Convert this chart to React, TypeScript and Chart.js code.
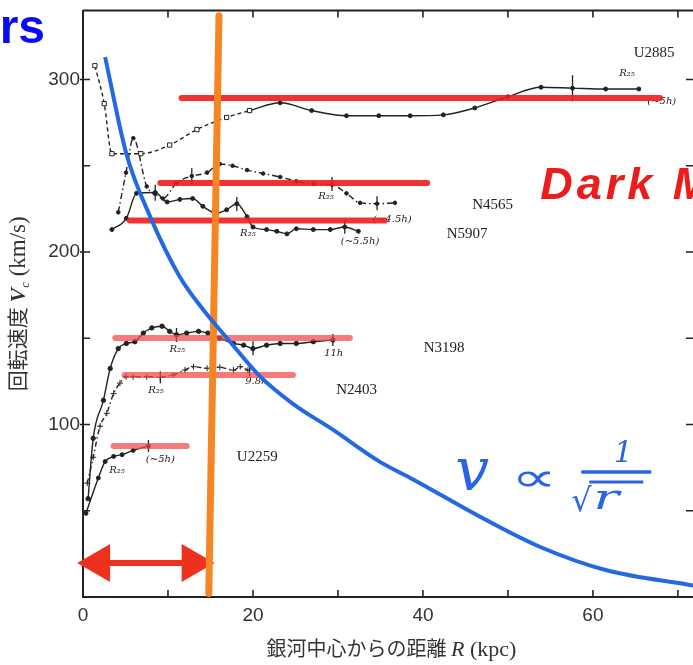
import React, { useEffect, useRef } from 'react';
import { Chart, registerables } from 'chart.js';

Chart.register(...registerables);

// ---- axis ticks ----
const xTickLabels = [0, 20, 40, 60];
const yTickLabels = [100, 200, 300];

// ---- rotation curves (R in kpc, V in km/s) ----
const u2885InnerR = [1.4, 2.5, 3.4, 6.8, 10.2, 13.4, 16.9, 19.6];
const u2885InnerV = [308, 286, 257, 257, 262, 271, 278, 282];
const u2885OuterR = [19.6, 23.2, 26.9, 31.0, 34.8, 38.5, 42.4, 46.1, 50.0, 53.9, 57.6, 61.5, 65.4];
const u2885OuterV = [282, 286.5, 282, 279, 279, 279, 279.5, 283.5, 290, 295.5, 295, 294.5, 294.5];

const n4565R = [4.15, 5.06, 5.92, 7.5, 8.4, 9.4, 11.0, 12.8, 14.6, 16.1, 17.6, 19.3, 21.2, 23.2, 25.1, 27.1, 29.3, 31.0, 32.6, 34.6, 36.7];
const n4565V = [223, 246, 266, 238, 234, 231, 240, 244, 246, 251, 250, 247.5, 245.5, 243.5, 241, 239.5, 239, 234, 228.5, 228, 228.5];

const n5907R = [3.4, 5.1, 6.3, 8.5, 9.9, 11.4, 12.9, 14.1, 15.7, 16.9, 18.1, 19.3, 20.0, 21.6, 22.8, 24.0, 25.1, 27.1, 29.1, 30.8, 32.4];
const n5907V = [213, 219.5, 234, 234.5, 229, 230.5, 231, 226.5, 222.5, 224.5, 228, 220.5, 214.5, 213, 212, 210.5, 213.5, 213, 213, 214.5, 212];

const n3198R = [0.6, 1.2, 2.4, 3.2, 4.15, 5.1, 6.1, 7.1, 8.1, 9.3, 10.2, 11.0, 12.2, 13.6, 14.7, 16.1, 17.7, 18.9, 20.0, 21.6, 23.2, 25.1, 27.1, 29.4];
const n3198V = [57, 92, 114, 132.5, 144, 147, 148, 153, 156, 157, 154, 152, 153, 154, 153, 150, 147, 146, 144, 146, 147, 147, 148, 149];

const n2403R = [0.5, 1.2, 2.0, 2.8, 3.6, 4.35, 5.06, 5.9, 7.5, 9.1, 10.6, 12.0, 13.0, 14.6, 16.1, 17.7, 18.5, 19.4];
const n2403V = [66, 81, 99, 106.5, 118, 124, 127.7, 127.7, 127.7, 127.4, 128.7, 131.6, 133.5, 132.6, 133.2, 131.5, 133.5, 131.5];

const u2259R = [0.35, 1.8, 2.6, 3.6, 4.6, 5.9, 7.7];
const u2259V = [48.5, 69, 78.5, 81.5, 82.5, 85, 87.5];

// error bars
const errR = [57.6, 12.8, 29.3, 34.6, 8.5, 18.1, 30.8, 11.0, 20.0, 29.4, 9.1, 19.6, 7.7];
const errV = [295, 244, 239.4, 228.2, 234.4, 227.8, 214.7, 151.9, 144.2, 149, 127.4, 131.5, 87.5];
const errHalf = [13, 8, 7, 7, 8, 7, 7, 7, 7, 6, 6, 6, 6];

// hand-drawn flat (dark matter) levels
const flatV = [289.3, 240, 218.3, 150.1, 128.7, 87.5];
const flatStart = [11.6, 9.1, 5.5, 3.8, 4.9, 3.6];
const flatEnd = [67.9, 40.5, 35.5, 31.4, 24.7, 12.2];

// hand-drawn Keplerian curve v ∝ 1/√r
const keplerR = [2.6, 5.1, 7.9, 11.4, 14.15, 17.3, 20.8, 24.7, 29.4, 34.9, 38.9, 47.1, 53.8, 61.6, 71.4, 72.6];
const keplerV = [313, 257, 220.5, 185.5, 166.5, 148, 128, 112, 97, 78.5, 68, 45.5, 29, 15.5, 7, 6];

// orange marker line (visible disk edge) and red range arrow
const diskEdgeR = [16.0, 14.8];
const diskEdgeV = [337, 2];
const arrowR = [1.9, 12.9];
const arrowV = [19.7, 19.7];

// ---- text annotations ----
const galaxyNames = ['U2885', 'N4565', 'N5907', 'N3198', 'N2403', 'U2259'];
const galaxyAt = [[67.2, 315.4], [48.2, 227.2], [45.2, 210.4], [42.5, 144.3], [32.2, 120], [20.5, 81.2]];
const noteTexts = ['R₂₅', '(~5h)', 'R₂₅', '(~4.5h)', 'R₂₅', '(~5.5h)', 'R₂₅', '11h', 'R₂₅', '9.8h', 'R₂₅', '(~5h)'];
const noteAt = [[64, 303.8], [68.1, 287.5], [28.6, 232.5], [36.4, 219], [19.4, 211], [32.6, 206.4], [11.1, 143.8], [29.5, 141.4], [8.6, 120], [20.4, 125.2], [4.0, 73.6], [9.1, 80]];

const pts = (rs: number[], vs: number[]) => rs.map((r, i) => ({ x: r, y: vs[i] }));

const INK = '#222';

const decor = {
  id: 'decor',
  beforeDatasetsDraw(chart: any) {
    const ctx = chart.ctx;
    const xs = chart.scales.x;
    const ys = chart.scales.y;
    ctx.save();
    ctx.fillStyle = INK;
    ctx.font = 'italic 10px "DejaVu Serif"';
    ctx.textAlign = 'center';
    ctx.textBaseline = 'middle';
    noteTexts.forEach((t, i) => {
      ctx.fillText(t, xs.getPixelForValue(noteAt[i][0]), ys.getPixelForValue(noteAt[i][1]));
    });
    ctx.restore();
  },
  afterDraw(chart: any) {
    const ctx = chart.ctx;
    const xs = chart.scales.x;
    const ys = chart.scales.y;
    const a = chart.chartArea;
    ctx.save();
    // frame top
    ctx.strokeStyle = INK;
    ctx.lineWidth = 2;
    ctx.beginPath();
    ctx.moveTo(a.left, a.top);
    ctx.lineTo(a.right, a.top);
    ctx.stroke();
    // inward ticks
    ctx.lineWidth = 1.6;
    for (let r = 10; r <= 70; r += 10) {
      const x = xs.getPixelForValue(r);
      ctx.beginPath();
      ctx.moveTo(x, a.bottom); ctx.lineTo(x, a.bottom - 7);
      ctx.moveTo(x, a.top); ctx.lineTo(x, a.top + 7);
      ctx.stroke();
    }
    for (let v = 50; v <= 300; v += 50) {
      const y = ys.getPixelForValue(v);
      ctx.beginPath();
      ctx.moveTo(a.left - (v % 100 === 0 ? 3 : 0), y); ctx.lineTo(a.left + 7, y);
      ctx.moveTo(a.right, y); ctx.lineTo(a.right - 14, y);
      ctx.stroke();
    }
    // galaxy labels
    ctx.fillStyle = INK;
    ctx.font = '15px "Liberation Serif"';
    ctx.textAlign = 'center';
    ctx.textBaseline = 'middle';
    galaxyNames.forEach((g, i) => {
      ctx.fillText(g, xs.getPixelForValue(galaxyAt[i][0]), ys.getPixelForValue(galaxyAt[i][1]));
    });

    // x title
    const cx = (a.left + a.right) / 2;
    const ty = a.bottom + 52;
    const p1 = '銀河中心からの距離 ';
    const p2 = 'R';
    const p3 = ' (kpc)';
    const f1 = '20px "Noto Sans CJK JP"';
    const f2 = 'italic 22px "Liberation Serif"';
    const f3 = '22px "Liberation Serif"';
    ctx.font = f1; const w1 = ctx.measureText(p1).width;
    ctx.font = f2; const w2 = ctx.measureText(p2).width;
    ctx.font = f3; const w3 = ctx.measureText(p3).width;
    let sx = cx - (w1 + w2 + w3) / 2;
    ctx.textAlign = 'left';
    ctx.textBaseline = 'alphabetic';
    ctx.fillStyle = '#333';
    ctx.font = f1; ctx.fillText(p1, sx, ty + 7); sx += w1;
    ctx.font = f2; ctx.fillText(p2, sx, ty + 7); sx += w2;
    ctx.font = f3; ctx.fillText(p3, sx, ty + 7);

    // y title (rotated)
    ctx.save();
    ctx.translate(25, (a.top + a.bottom) / 2);
    ctx.rotate(-Math.PI / 2);
    const q1 = '回転速度 ';
    const q2 = 'V';
    const q3 = 'c';
    const q4 = ' (km/s)';
    const g1 = '21px "Noto Sans CJK JP"';
    const g2 = 'bold italic 22px "Liberation Serif"';
    const g3 = 'italic 13px "Liberation Serif"';
    const g4 = '23px "Liberation Serif"';
    ctx.font = g1; const u1 = ctx.measureText(q1).width;
    ctx.font = g2; const u2 = ctx.measureText(q2).width;
    ctx.font = g3; const u3 = ctx.measureText(q3).width;
    ctx.font = g4; const u4 = ctx.measureText(q4).width;
    let sy = -(u1 + u2 + u3 + u4) / 2;
    ctx.font = g1; ctx.fillText(q1, sy, 0); sy += u1;
    ctx.font = g2; ctx.fillText(q2, sy, 0); sy += u2;
    ctx.font = g3; ctx.fillText(q3, sy, 4); sy += u3;
    ctx.font = g4; ctx.fillText(q4, sy, 0);
    ctx.restore();

    // cropped slide heading remnant
    ctx.fillStyle = '#0b0bf5';
    ctx.font = 'bold 48px "Liberation Sans"';
    ctx.textAlign = 'right';
    ctx.fillText('rs', 45, 43);

    // hand-written "Dark Matter"
    ctx.textAlign = 'left';
    ctx.fillStyle = 'rgb(236,28,28)';
    ctx.font = 'italic bold 45px "Liberation Sans"';
    (ctx as any).letterSpacing = '4px';
    ctx.fillText('Dark Matter', xs.getPixelForValue(53.8), ys.getPixelForValue(231));
    (ctx as any).letterSpacing = '0px';

    // hand-written v ∝ 1/√r
    const bx = xs.getPixelForValue(43.8);
    const by = ys.getPixelForValue(62);
    ctx.fillStyle = 'rgb(40,100,230)';
    ctx.strokeStyle = 'rgb(40,100,230)';
    ctx.font = 'italic 60px "DejaVu Serif"';
    ctx.fillText('v', bx, by);
    ctx.save();
    ctx.translate(bx + 56, by + 1);
    ctx.scale(1.6, 1);
    ctx.font = '40px "DejaVu Sans"';
    ctx.fillText('∝', 0, 0);
    ctx.restore();
    ctx.font = 'italic 30px "DejaVu Serif"';
    ctx.textAlign = 'center';
    ctx.fillText('1', bx + 168, by - 28);
    ctx.lineWidth = 3.5;
    ctx.beginPath();
    ctx.moveTo(bx + 126, by - 18); ctx.lineTo(bx + 196, by - 18);
    ctx.stroke();
    ctx.textAlign = 'left';
    ctx.font = '32px "DejaVu Sans"';
    ctx.fillText('√', bx + 116, by + 21);
    ctx.lineWidth = 3;
    ctx.beginPath();
    ctx.moveTo(bx + 134, by - 8); ctx.lineTo(bx + 188, by - 8);
    ctx.stroke();
    ctx.save();
    ctx.translate(bx + 138, by + 19);
    ctx.scale(1.5, 1);
    ctx.font = 'italic 36px "DejaVu Serif"';
    ctx.fillText('r', 0, 0);
    ctx.restore();
    ctx.restore();
  },
};

export default function App() {
  const ref = useRef<HTMLCanvasElement>(null);
  useEffect(() => {
    const curve = (data: any, extra: any) => ({
      type: 'line',
      data,
      borderColor: INK,
      backgroundColor: INK,
      pointBackgroundColor: INK,
      pointBorderColor: INK,
      borderWidth: 1.4,
      pointRadius: 2,
      pointBorderWidth: 1,
      cubicInterpolationMode: 'monotone',
      order: 5,
      ...extra,
    });
    const datasets: any[] = [
      curve(pts(u2885InnerR, u2885InnerV), { borderDash: [4, 3], pointStyle: 'rect', pointRadius: 3, pointBackgroundColor: '#fff' }),
      curve(pts(u2885OuterR, u2885OuterV), {}),
      curve(pts(n4565R, n4565V), { borderDash: [6, 3, 1.5, 3], pointRadius: 1.8 }),
      curve(pts(n5907R, n5907V), {}),
      curve(pts(n3198R, n3198V), { pointRadius: 2.2 }),
      curve(pts(n2403R, n2403V), { borderDash: [5, 3, 1.5, 3], pointStyle: 'cross', pointRadius: 3 }),
      curve(pts(u2259R, u2259V), {}),
      {
        type: 'line',
        data: pts(errR, errV),
        showLine: false,
        pointStyle: 'line',
        pointRotation: 90,
        pointRadius: errHalf,
        pointBorderColor: INK,
        pointBorderWidth: 1.3,
        order: 5,
      },
    ];
    flatV.forEach((v, i) => {
      datasets.push({
        type: 'line',
        data: pts([flatStart[i], flatEnd[i]], [v, v]),
        borderColor: i < 3 ? 'rgba(238,28,28,0.9)' : 'rgba(242,70,70,0.72)',
        borderWidth: 6,
        borderCapStyle: 'round',
        pointRadius: 0,
        order: 3,
      });
    });
    datasets.push({
      type: 'line',
      data: pts(diskEdgeR, diskEdgeV),
      borderColor: 'rgb(246,134,35)',
      borderWidth: 7,
      borderCapStyle: 'round',
      pointRadius: 0,
      order: 2,
    });
    datasets.push({
      type: 'line',
      data: pts(arrowR, arrowV),
      borderColor: 'rgb(236,50,30)',
      backgroundColor: 'rgb(236,50,30)',
      borderWidth: 6,
      pointStyle: 'triangle',
      pointRotation: [-90, 90],
      pointRadius: 16,
      pointBackgroundColor: 'rgb(236,50,30)',
      pointBorderColor: 'rgb(236,50,30)',
      clip: false,
      order: 2,
    });
    datasets.push({
      type: 'line',
      data: pts(keplerR, keplerV),
      borderColor: 'rgb(35,105,225)',
      borderWidth: 4,
      pointRadius: 0,
      cubicInterpolationMode: 'monotone',
      order: 1,
    });

    const chart = new Chart(ref.current as HTMLCanvasElement, {
      type: 'line',
      data: { datasets },
      options: {
        responsive: false,
        maintainAspectRatio: false,
        animation: false,
        devicePixelRatio: 1,
        layout: { autoPadding: false, padding: { top: 10.5, right: 10, left: 0, bottom: 0 } },
        plugins: { legend: { display: false }, tooltip: { enabled: false } },
        scales: {
          x: {
            type: 'linear',
            min: 0,
            max: 72.6,
            afterFit: (s: any) => { s.height = 68; },
            grid: { display: false, drawTicks: false },
            border: { display: true, color: INK, width: 2 },
            ticks: {
              stepSize: 10,
              includeBounds: false,
              padding: 7,
              color: '#333',
              font: { family: 'Liberation Sans', size: 19 },
              maxRotation: 0,
              autoSkip: false,
              callback: (v: any) => (xTickLabels.includes(Number(v)) ? String(v) : ''),
            },
          },
          y: {
            type: 'linear',
            min: 0,
            max: 340,
            afterFit: (s: any) => { s.width = 83; },
            grid: { display: false, drawTicks: false },
            border: { display: true, color: INK, width: 2 },
            ticks: {
              stepSize: 50,
              includeBounds: false,
              padding: 3,
              color: '#333',
              font: { family: 'Liberation Sans', size: 19, lineHeight: 0.5 },
              autoSkip: false,
              callback: (v: any) => (yTickLabels.includes(Number(v)) ? String(v) : ''),
            },
          },
        },
      },
      plugins: [decor],
    } as any);
    return () => chart.destroy();
  }, []);
  return (
    <div style={{ position: 'fixed', left: 0, top: 0, width: 693, height: 665, overflow: 'hidden', background: '#fff' }}>
      <canvas ref={ref} width={710} height={665} style={{ display: 'block', width: 710, height: 665 }} />
    </div>
  );
}
